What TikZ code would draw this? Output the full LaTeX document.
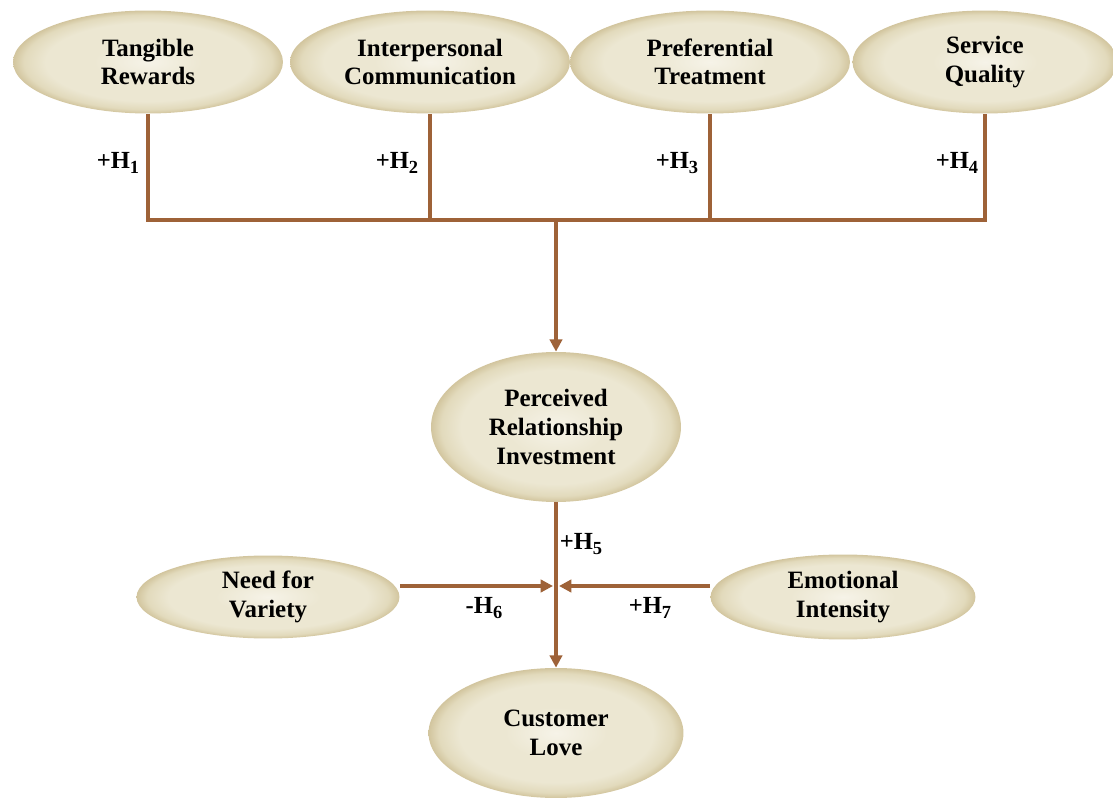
\documentclass[tikz,border=0pt]{standalone}
\usepackage{fontspec}
\setmainfont{Liberation Serif}
\usetikzlibrary{shapes.geometric,arrows.meta,calc}
\definecolor{linkbrown}{RGB}{158,98,56}
\definecolor{capcore}{RGB}{246,243,232}
\definecolor{capmid}{RGB}{236,231,210}
\definecolor{capring}{RGB}{226,218,188}
\definecolor{capedge}{RGB}{210,197,158}
% soft cream glow, darkening only near the rim
\pgfdeclareradialshading{capglow}{\pgfpoint{0bp}{0bp}}{%
  color(0bp)=(capcore); color(10bp)=(capmid); color(19bp)=(capmid);
  color(23bp)=(capring); color(25bp)=(capedge); color(50bp)=(capedge)}
\newcommand{\hyp}[2]{#1H\raisebox{-3.2pt}{\fontsize{10.5}{10.5}\selectfont #2}}
\begin{document}
\begin{tikzpicture}[x=0.02cm,y=-0.02cm,
  construct/.style={ellipse,inner sep=0pt,shading=capglow,
    font=\fontsize{14.2}{16.3}\selectfont\bfseries,align=center},
  link/.style={draw=linkbrown,line width=2.3pt},
  tip/.style={-{Triangle[length=7pt,width=7pt]}},
  hlabel/.style={font=\fontsize{14}{16}\selectfont\bfseries,inner sep=0pt}]
\useasboundingbox (0,0) rectangle (1113,800);

% antecedents
\node[construct,minimum width=5.4cm,minimum height=2.06cm] (tr) at (148,62) {Tangible\\Rewards};
\node[construct,minimum width=5.6cm,minimum height=2.06cm] (ic) at (430,62) {Interpersonal\\Communication};
\node[construct,minimum width=5.6cm,minimum height=2.06cm] (pt) at (710,62) {Preferential\\Treatment};
\node[construct,minimum width=5.3cm,minimum height=2.06cm] (sq) at (985,62) {Service\\Quality};

% mediator, moderators and outcome
\node[construct,minimum width=5.0cm,minimum height=3.0cm] (pri) at (556,427) {Perceived\\Relationship\\Investment};
\node[construct,minimum width=5.26cm,minimum height=1.66cm] (nv) at (268,597) {Need for\\Variety};
\node[construct,minimum width=5.3cm,minimum height=1.7cm] (ei) at (843,597) {Emotional\\Intensity};
\node[construct,minimum width=5.1cm,minimum height=2.6cm] (cl) at (556,733) {Customer\\Love};

% collecting bus
\coordinate (bus) at (556,220);
\draw[link] (tr.south) -- (tr.south |- bus) -- (sq.south |- bus) -- (sq.south);
\draw[link] (ic.south) -- (ic.south |- bus);
\draw[link] (pt.south) -- (pt.south |- bus);
\draw[link,tip] (bus) -- (pri.north);

% moderated path
\coordinate (mid) at (556,586);
\draw[link,tip] (pri.south) -- (cl.north);
\draw[link,tip] (mid -| nv.east) -- ($(mid)+(-3,0)$);
\draw[link,tip] (mid -| ei.west) -- ($(mid)+(3,0)$);

% hypothesis labels
\node[hlabel] (h1) at (118,163) {\hyp{+}{1}};
\node[hlabel] (h2) at (397,163) {\hyp{+}{2}};
\node[hlabel] (h3) at (677,163) {\hyp{+}{3}};
\node[hlabel] (h4) at (957,163) {\hyp{+}{4}};
\node[hlabel] (h5) at (581,544) {\hyp{+}{5}};
\node[hlabel] (h6) at (484,608) {\hyp{-}{6}};
\node[hlabel] (h7) at (650,608) {\hyp{+}{7}};
\end{tikzpicture}
\end{document}
